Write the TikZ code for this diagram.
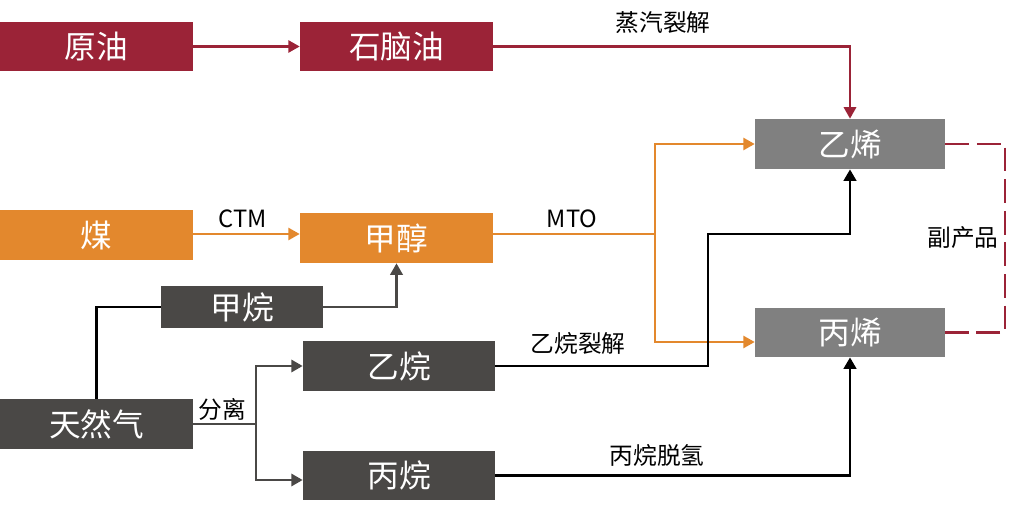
\documentclass[tikz,border=0pt]{standalone}
\usepackage{fontspec}
\usepackage{xcolor}
\usepackage{tikz}
\usetikzlibrary{arrows.meta}
\setmainfont{Noto Sans CJK SC}

\definecolor{oilred}{RGB}{155,35,55}
\definecolor{coalorange}{RGB}{227,136,45}
\definecolor{gasgray}{RGB}{74,72,70}
\definecolor{prodgray}{RGB}{128,128,128}

\tikzset{
  box/.style={minimum width=3.86cm, minimum height=1cm, inner sep=0pt, text=white,
    font=\fontsize{18}{20}\selectfont},
  oilbox/.style={box, fill=oilred, minimum height=0.98cm},
  coalbox/.style={box, fill=coalorange},
  gasbox/.style={box, fill=gasgray},
  prodbox/.style={box, fill=prodgray, minimum width=3.8cm},
  lbl/.style={font=\fontsize{13.5}{15}\selectfont, text=black, inner sep=1pt},
  arr/.style={-{Triangle[length=6.5pt,width=7pt]}},
  oilline/.style={draw=oilred, line width=1.2pt},
  coalline/.style={draw=coalorange, line width=1.2pt},
  gasline/.style={draw=gasgray, line width=1.4pt},
  darkline/.style={draw=black, line width=1.6pt},
}

\begin{document}
\begin{tikzpicture}[x=0.02cm, y=-0.02cm]
  \useasboundingbox (0,0) rectangle (1027,516);

  % feed stocks
  \node[oilbox] (crude) at (96.5,46.5) {原油};
  \node[oilbox] (naphtha) at (396.5,46.5) {石脑油};
  \node[coalbox] (coal) at (96.5,235) {煤};
  \node[coalbox] (methanol) at (396.5,238) {甲醇};
  \node[gasbox, minimum width=3.24cm, minimum height=0.84cm] (methane) at (242,307) {甲烷};
  \node[gasbox, minimum width=3.84cm] (ethane) at (399,366) {乙烷};
  \node[gasbox] (natgas) at (96.5,424) {天然气};
  \node[gasbox, minimum width=3.84cm, minimum height=0.98cm] (propane) at (399,475.5) {丙烷};

  % products
  \node[prodbox] (ethylene) at (850,144) {乙烯};
  \node[prodbox, minimum height=0.98cm] (propylene) at (850,332.5) {丙烯};

  % junctions
  \coordinate (mto) at (655,234);
  \coordinate (mtolow) at (655,342);
  \coordinate (crack) at (708,234);
  \coordinate (sep) at (256,424);
  \coordinate (seplow) at (256,480);
  \coordinate (byprod) at (1005,238);

  % oil route
  \draw[oilline, arr] (crude) -- (naphtha);
  \draw[oilline, arr] (naphtha.east) -| (ethylene.north);
  \node[lbl] (steam) at (663,23) {蒸汽裂解};

  % coal route
  \draw[coalline, arr] (coal.east |- mto) -- (methanol.west |- mto);
  \node[lbl] (ctm) at (243,219) {CTM};
  \draw[coalline] (methanol.east |- mto) -- (mto);
  \draw[coalline, arr] (mto) |- (ethylene.west);
  \draw[coalline, arr] (mto) -- (mtolow) -- (mtolow -| propylene.west);
  \node[lbl] (mtolbl) at (572,219) {MTO};

  % gas route
  \draw[darkline] (natgas.north) |- (methane.west);
  \draw[gasline, arr] (methane.east) -| (methanol.south);
  \draw[gasline] (natgas.east) -- (sep);
  \draw[gasline, arr] (sep) |- (ethane.west);
  \draw[gasline, arr] (sep) -- (seplow) -- (seplow -| propane.west);
  \node[lbl] (split) at (222,409) {分离};
  \draw[darkline, arr] (ethane.east) -| (crack) -| (ethylene.south);
  \node[lbl] (ethcrack) at (578,343) {乙烷裂解};
  \draw[darkline, arr] (propane.east) -| (propylene.south);
  \node[lbl] (pdh) at (657,455) {丙烷脱氢};

  % by-product link
  \draw[oilline, dash pattern=on 13.5pt off 4.5pt] (ethylene.east) -| (byprod) |- (propylene.east);
  \node[lbl] (bylbl) at (963,238) {副产品};
\end{tikzpicture}
\end{document}
